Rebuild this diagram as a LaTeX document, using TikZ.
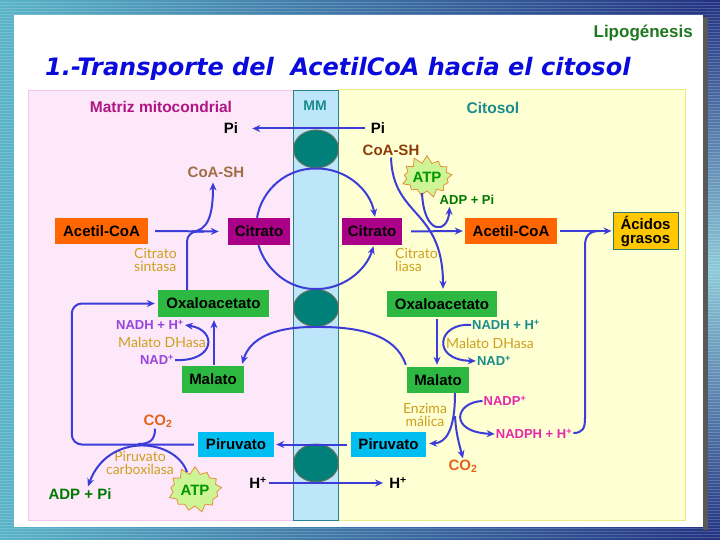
\documentclass[tikz,border=0pt]{standalone}
\usepackage{fontspec}
\setmainfont{Liberation Sans}
\newfontfamily\titlefont{DejaVu Sans Bold Oblique}
\newfontfamily\enzfont{Lato}
\usetikzlibrary{shapes.geometric,shapes.symbols,arrows.meta,calc}
\definecolor{arrc}{RGB}{60,60,215}
\definecolor{framel}{RGB}{90,180,200}
\definecolor{framer}{RGB}{35,50,130}
\definecolor{pinkbg}{RGB}{253,232,250}
\definecolor{pinkbd}{RGB}{240,200,235}
\definecolor{yelbg}{RGB}{255,255,212}
\definecolor{yelbd}{RGB}{230,235,130}
\definecolor{mmfill}{RGB}{190,230,250}
\definecolor{mmbd}{RGB}{40,130,140}
\definecolor{trans}{RGB}{0,128,120}
\definecolor{transbd}{RGB}{110,115,95}
\definecolor{magbox}{RGB}{170,0,136}
\definecolor{orbox}{RGB}{255,102,0}
\definecolor{grbox}{RGB}{45,185,65}
\definecolor{cybox}{RGB}{0,190,240}
\definecolor{ylbox}{RGB}{255,200,0}
\definecolor{ylboxbd}{RGB}{50,120,100}
\definecolor{matcol}{RGB}{175,20,130}
\definecolor{tealtx}{RGB}{25,140,140}
\definecolor{brownL}{RGB}{160,110,70}
\definecolor{brownR}{RGB}{140,60,10}
\definecolor{greentx}{RGB}{0,120,0}
\definecolor{atptx}{RGB}{0,150,0}
\definecolor{atpfill}{RGB}{205,245,150}
\definecolor{atpbd}{RGB}{235,140,60}
\definecolor{purptx}{RGB}{150,70,220}
\definecolor{goldtx}{RGB}{205,160,30}
\definecolor{pinktx}{RGB}{230,40,170}
\definecolor{co2tx}{RGB}{225,100,30}
\definecolor{titletx}{RGB}{10,10,220}
\definecolor{lipotx}{RGB}{30,120,30}
\begin{document}
\begin{tikzpicture}[x=1pt,y=-1pt,
  pbox/.style={inner sep=0pt, font=\bfseries\fontsize{15}{16}\selectfont},
  lbl/.style={inner sep=1pt, font=\bfseries\fontsize{15}{16}\selectfont},
  slbl/.style={inner sep=1pt, font=\bfseries\fontsize{13}{14}\selectfont},
  enz/.style={inner sep=0pt, text=goldtx, font=\enzfont\fontsize{14}{13.5}\selectfont},
  trn/.style={ellipse, fill=trans, draw=transbd, line width=1pt, minimum width=45pt, minimum height=38pt, inner sep=0pt},
  atpstar/.style={starburst, starburst points=13, starburst point height=8pt, random starburst=30, fill=atpfill, draw=atpbd, line width=0.8pt, inner sep=0pt, text=atptx, font=\bfseries\fontsize{15}{16}\selectfont},
  ln/.style={draw=arrc, line width=2pt},
  arr/.style={draw=arrc, line width=2pt, -{Stealth[length=8pt,width=7pt]}},
]
\useasboundingbox (0,0) rectangle (720,540);
% slide frame
\shade[left color=framel, right color=framer] (0,0) rectangle (720,540);
\shade[top color=framer, bottom color=framer, middle color=framel!70!white] (706,0) rectangle (720,540);
\foreach \yy in {0,3,...,540} { \draw[white, opacity=0.18, line width=1pt] (0,\yy) -- (720,\yy); }
\fill[black!65] (703,17) rectangle (708,530);
\fill[white] (14,15) rectangle (703,527);
% regions
\filldraw[fill=pinkbg, draw=pinkbd] (28,90) rectangle (293,520);
\filldraw[fill=yelbg, draw=yelbd, line width=1pt] (338,90) rectangle (685,520);
\filldraw[fill=mmfill, draw=mmbd] (293,90) rectangle (338,520);
% titles
\node[anchor=base west, text=titletx, font=\titlefont\fontsize{24}{26}\selectfont, inner sep=0pt] (title) at (45,76) {1.-Transporte del\ \ AcetilCoA hacia el citosol};
\node[anchor=east, text=lipotx, font=\bfseries\fontsize{17}{18}\selectfont, inner sep=0pt] (lipo) at (693,33) {Lipogénesis};
\node[lbl, text=matcol, font=\bfseries\fontsize{15.5}{16}\selectfont] (matriz) at (161,107) {Matriz mitocondrial};
\node[lbl, text=tealtx, font=\bfseries\fontsize{14}{16}\selectfont] (mm) at (315,106) {MM};
\node[lbl, text=tealtx, font=\bfseries\fontsize{15.5}{16}\selectfont] (citosol) at (493,108) {Citosol};
% transporters
\node[trn] (tr1) at (316,149) {};
\node[trn, minimum height=37pt] (tr2) at (316,308) {};
\node[trn] (tr3) at (316,463) {};
% boxes
\node[pbox, fill=orbox, minimum width=93pt, minimum height=25pt] (accoaL) at (101.5,231) {Acetil-CoA};
\node[pbox, fill=magbox, minimum width=62pt, minimum height=27pt] (citL) at (259,231.5) {Citrato};
\node[pbox, fill=magbox, minimum width=60pt, minimum height=27pt] (citR) at (372,231.5) {Citrato};
\node[pbox, fill=orbox, minimum width=92pt, minimum height=26pt] (accoaR) at (511,231) {Acetil-CoA};
\node[pbox, fill=ylbox, draw=ylboxbd, line width=1pt, minimum width=65pt, minimum height=36pt, align=center, font=\bfseries\fontsize{15}{14}\selectfont] (acidos) at (645.5,231) {Ácidos\\grasos};
\node[pbox, fill=grbox, minimum width=111pt, minimum height=27pt] (oxaL) at (213.5,303.5) {Oxaloacetato};
\node[pbox, fill=grbox, minimum width=110pt, minimum height=26pt] (oxaR) at (442,304) {Oxaloacetato};
\node[pbox, fill=grbox, minimum width=62pt, minimum height=27pt] (malL) at (213,379.5) {Malato};
\node[pbox, fill=grbox, minimum width=62pt, minimum height=26pt] (malR) at (438,380) {Malato};
\node[pbox, fill=cybox, minimum width=76pt, minimum height=25pt] (piruL) at (236,444.5) {Piruvato};
\node[pbox, fill=cybox, minimum width=75pt, minimum height=25pt] (piruR) at (388.5,444.5) {Piruvato};
% small labels
\node[lbl] (piL) at (231,128.5) {Pi};
\node[lbl] (piR) at (378,128.5) {Pi};
\node[lbl, text=brownL] (coashL) at (216,172) {CoA-SH};
\node[lbl, text=brownR] (coashR) at (391,150) {CoA-SH};
\node[atpstar, minimum width=56pt, minimum height=44pt] (atpR) at (427,177) {ATP};
\node[slbl, text=greentx] (adpR) at (467,200) {ADP + Pi};
\node[enz, anchor=north west, align=left] (csint) at (134,248) {Citrato\\sintasa};
\node[enz, anchor=north west, align=left] (cliasa) at (395,248) {Citrato\\liasa};
\node[slbl, text=purptx] (nadhL) at (150,325) {NADH + H\textsuperscript{+}};
\node[enz] (mdhL) at (162,342) {Malato DHasa};
\node[slbl, text=purptx] (nadL) at (157,360) {NAD\textsuperscript{+}};
\node[slbl, text=tealtx] (nadhR) at (506,325) {NADH + H\textsuperscript{+}};
\node[enz] (mdhR) at (490,343) {Malato DHasa};
\node[slbl, text=tealtx] (nadR) at (494,361) {NAD\textsuperscript{+}};
\node[enz, align=center] (enzmal) at (425,415) {Enzima\\málica};
\node[slbl, text=pinktx] (nadpR) at (505,401) {NADP\textsuperscript{+}};
\node[slbl, text=pinktx] (nadphR) at (534,434) {NADPH + H\textsuperscript{+}};
\node[lbl, text=co2tx] (co2R) at (463,466) {CO\textsubscript{2}};
\node[lbl, text=co2tx] (co2L) at (158,421) {CO\textsubscript{2}};
\node[lbl] (hL) at (258,483) {H\textsuperscript{+}};
\node[lbl] (hR) at (398,483) {H\textsuperscript{+}};
\node[enz, align=center] (pcarb) at (140,463) {Piruvato\\carboxilasa};
\node[lbl, text=greentx] (adpL) at (80,494) {ADP + Pi};
\node[atpstar, minimum width=60pt, minimum height=48pt] (atpL) at (195,490) {ATP};
% connectors: top transporter
\draw[arr, shorten >=13pt, shorten <=5pt] (piR.west) -- (piL.east);
\draw[arr] ($(citL.north)+(-2,0)$) .. controls (262,189) and (287,168) .. (tr1.south) .. controls (345,168) and (370,189) .. ($(citR.north)+(3,-1)$);
\draw[arr] ($(citL.south)+(-0.5,0)$) .. controls (266,270.5) and (289.4,289.5) .. (tr2.north) .. controls (342.6,289.5) and (366,270.5) .. ($(citR.south)+(1.5,1)$);
% citrate synthase
\draw[arr, shorten <=7pt, shorten >=9pt] (accoaL.east) -- (citL.west);
\draw[ln, rounded corners=10pt] ($(oxaL.north)+(-26.5,0)$) |- ($(citL.west)+(-24,0)$);
\draw[arr] ($(citL.west)+(-36,0)$) .. controls (208,231) and (213,215) .. ($(coashL.south)+(-3,4)$);
% citrate lyase
\draw[arr, shorten <=9pt, shorten >=2pt] (citR.east) -- (accoaR.west);
\draw[arr] ($(coashR.south)+(0,1)$) .. controls (393,218) and (443,208) .. ($(oxaR.north)+(1,-2)$);
\draw[arr] ($(atpR.center)+(-5,16)$) .. controls (424,236) and (448,234) .. ($(adpR.south west)+(11,1)$);
\draw[arr, shorten <=3pt, shorten >=1pt] (accoaR.east) -- (acidos.west);
\coordinate (nadphEnd) at ($(nadphR.east)+(0,-1)$);
\coordinate (fajoin) at ($(acidos.west)+(-13,0)$);
\draw[ln] (nadphEnd) .. controls (583,433) and (585,428) .. (585,418) -- (585,246) .. controls (585,236) and (589,231) .. (fajoin);
% malate dehydrogenase
\draw[arr] ($(malL.north)+(1,-1)$) -- ($(oxaL.south)+(0.5,3)$);
\draw[arr] (nadL.east) .. controls (215,362) and (218,330) .. (nadhL.east);
\draw[arr] ($(oxaR.south)+(-5,2)$) -- ($(malR.north)+(-1,-2)$);
\draw[arr] (nadhR.west) .. controls (438,322) and (430,360) .. (nadR.west);
% malate transporter
\draw[arr] ($(malR.north west)+(-1,-2)$) .. controls (396,335) and (360,326.5) .. (tr2.south) .. controls (275,326.5) and (250,338) .. ($(malL.north east)+(-2,-2)$);
% malic enzyme
\draw[arr] ($(malR.south)+(17,0)$) .. controls (455,430) and (446,443) .. ($(piruR.east)+(3,-1)$);
\draw[arr] (nadpR.west) .. controls (455,402) and (448,432) .. (nadphR.west);
\draw[arr] ($(malR.south)+(17,23)$) .. controls (456,432) and (458,440) .. (co2R.north);
% pyruvate transport and H+
\draw[arr, shorten <=4pt, shorten >=2pt] (piruR.west) -- (piruL.east);
\draw[arr, shorten <=1pt, shorten >=5pt] (hL.east) -- (hR.west);
% pyruvate carboxylase
\draw[arr, rounded corners=10pt] ($(piruL.west)+(-4,0)$) -| ($(oxaL.west)+(-86,0)$) -- ($(oxaL.west)+(-3,0)$);
\draw[ln] ($(co2L.south)+(-3,0)$) .. controls (155,440) and (150,444) .. (138,444);
\draw[arr] ($(atpL.center)+(-8,-18)$) .. controls (175,438) and (108,432) .. ($(adpL.north)+(8,-1)$);
\end{tikzpicture}
\end{document}
